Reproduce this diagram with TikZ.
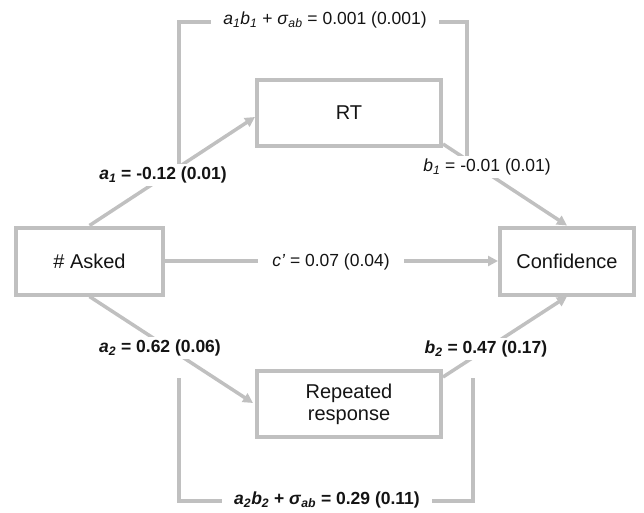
\documentclass[tikz,border=0pt]{standalone}
\usepackage{fontspec}
\setmainfont{Liberation Sans}
\usetikzlibrary{arrows.meta,calc}
\definecolor{lg}{RGB}{192,192,192}
\definecolor{ink}{RGB}{20,20,20}
\newcommand\sv[2]{\textit{#1}\textsubscript{\textit{#2}}}
\begin{document}
\begin{tikzpicture}[x=1pt,y=-1pt,
  box/.style={draw=lg,line width=4pt,fill=white,inner sep=0pt,align=center,
    text=ink,font=\fontsize{20}{24}\selectfont},
  conn/.style={draw=lg,line width=3.5pt},
  arr/.style={conn,-{Triangle[length=10pt,width=10pt]}},
  lbl/.style={fill=white,inner xsep=12pt,inner ysep=3pt,text=ink,
    font=\fontsize{17.5}{21}\selectfont}]
\useasboundingbox (0,0) rectangle (644,513);
% boxes
\node[box,minimum width=147pt,minimum height=67pt] (asked) at (89.5,261) {\# Asked};
\node[box,minimum width=184pt,minimum height=66pt] (rt) at (349,113) {RT};
\node[box,minimum width=134pt,minimum height=67pt] (conf) at (567,261) {Confidence};
\node[box,minimum width=184pt,minimum height=66pt] (rep) at (349,404) {Repeated\\[-2pt]response};
% bracket corners
\coordinate (t1) at (179,166);
\coordinate (t2) at (179,22);
\coordinate (t3) at (467,22);
\coordinate (t4) at (467,164);
\coordinate (u1) at (179,378);
\coordinate (u2) at (179,501);
\coordinate (u3) at (473,501);
\coordinate (u4) at (473,378);
% connectors
\draw[arr] (asked.north) -- ($(rt.west)+(0,4)$);
\draw[arr] ($(rt.south east)+(0,-4)$) -- (conf.north);
\draw[arr] (asked.south) -- ($(rep.west)+(-2,-1)$);
\draw[arr] ($(rep.north east)+(0,8)$) -- (conf.south);
\draw[arr] (asked.east) -- (conf.west);
\draw[conn] (t1) -- (t2) -- (t3) -- (t4);
\draw[conn] (u1) -- (u2) -- (u3) -- (u4);
% labels
\node[lbl] (la1) at (163,175) {\textbf{\sv{a}{1} = -0.12 (0.01)}};
\node[lbl] (lb1) at (487,167) {\sv{b}{1} = -0.01 (0.01)};
\node[lbl] (la2) at (160,348) {\textbf{\sv{a}{2} = 0.62 (0.06)}};
\node[lbl] (lb2) at (486,349) {\textbf{\sv{b}{2} = 0.47 (0.17)}};
\node[lbl,inner xsep=14pt] (lc) at (331,262) {\textit{c’} = 0.07 (0.04)};
\node[lbl] (ltop) at (325,20) {\sv{a}{1}\sv{b}{1} + \sv{σ}{ab} = 0.001 (0.001)};
\node[lbl] (lbot) at (327,500) {\textbf{\sv{a}{2}\sv{b}{2} + \sv{σ}{ab} = 0.29 (0.11)}};
\end{tikzpicture}
\end{document}
